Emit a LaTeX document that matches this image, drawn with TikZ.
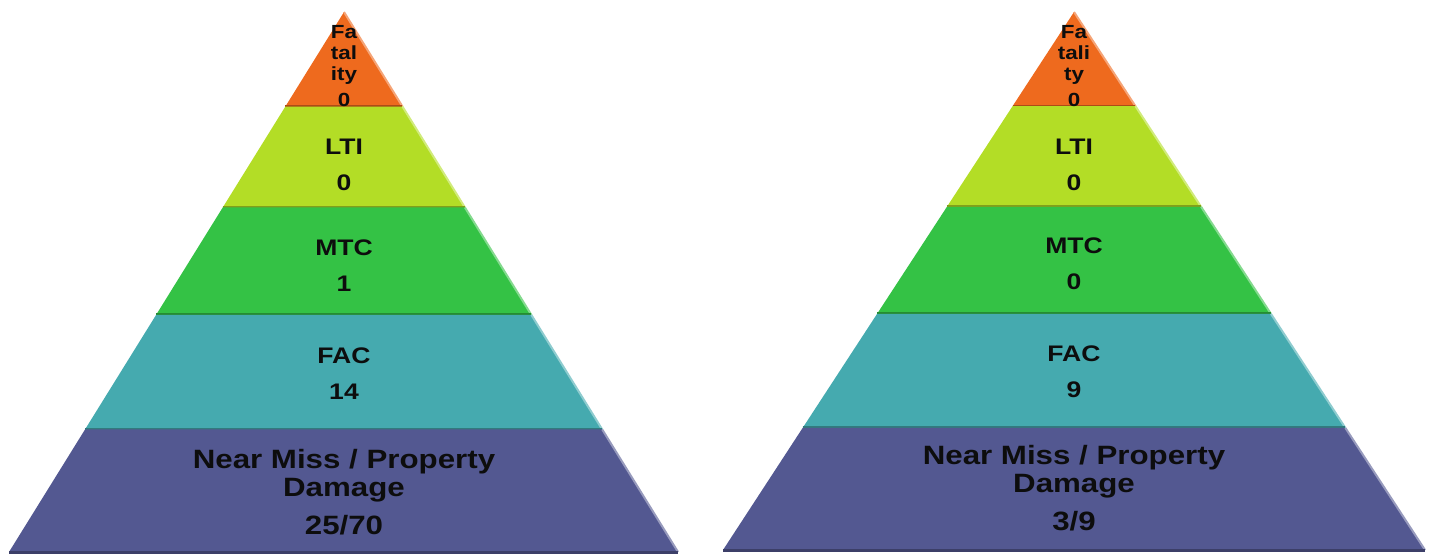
\documentclass[tikz,border=0pt]{standalone}
\usepackage{fontspec}
\newfontfamily\pyrfont[FakeStretch=1.18]{Liberation Sans}
\usetikzlibrary{calc}

\definecolor{FatalOrange}{HTML}{EE6A1E}
\definecolor{LtiLime}{HTML}{B3DD26}
\definecolor{MtcGreen}{HTML}{34C245}
\definecolor{FacTeal}{HTML}{45AAAF}
\definecolor{NearPurple}{HTML}{535891}

\begin{document}
\begin{tikzpicture}[x=1pt, y=-1pt,
    bandedge/.style={draw=#1!72!black, line width=3pt},
    bandtext/.style={font=\pyrfont\bfseries\fontsize{22.5}{36}\selectfont, text=black!95, align=center, inner sep=0pt},
    tiptext/.style={font=\pyrfont\bfseries\fontsize{19}{21}\selectfont, text=black!95, align=center, inner sep=0pt},
    basetext/.style={font=\pyrfont\bfseries\fontsize{26.5}{28}\selectfont, text=black!95, align=center, inner sep=0pt}]
    \useasboundingbox (0,0) rectangle (1434,554);

    % Corners of the two pyramids
    \coordinate (topL) at (344,12);
    \coordinate (leftL) at (9,552);
    \coordinate (rightL) at (678,552);
    \coordinate (topR) at (1074,12);
    \coordinate (leftR) at (723,550);
    \coordinate (rightR) at (1425,550);

    % Bands, top to bottom
    \foreach \s in {L,R} {
        \foreach \p/\q/\c in {0/0.175/FatalOrange, 0.175/0.362/LtiLime, 0.362/0.561/MtcGreen, 0.561/0.773/FacTeal, 0.773/1/NearPurple} {
            \fill[\c] ($(top\s)!\p!(left\s)$) -- ($(top\s)!\p!(right\s)$) -- ($(top\s)!\q!(right\s)$) -- ($(top\s)!\q!(left\s)$) -- cycle;
            \draw[\c!60!white, line width=2pt, xshift=-1.6pt] ($(top\s)!\p!(right\s)$) -- ($(top\s)!\q!(right\s)$);
            \draw[bandedge=\c] ($(top\s)!\q!(left\s)$) -- ($(top\s)!\q!(right\s)$);
        }
    }

    % Left pyramid texts
    \node[tiptext] (fatalL) at (344,66) {Fa\\tal\\ity\\[5pt]0};
    \node[bandtext] (ltiL) at (344,165) {LTI\\0};
    \node[bandtext] (mtcL) at (344,266) {MTC\\1};
    \node[bandtext] (facL) at (344,374) {FAC\\14};
    \node[basetext] (nearL) at (344,492) {Near Miss / Property\\Damage\\[10pt]25/70};

    % Right pyramid texts
    \node[tiptext] (fatalR) at (1074,66) {Fa\\tali\\ty\\[5pt]0};
    \node[bandtext] (ltiR) at (1074,164.5) {LTI\\0};
    \node[bandtext] (mtcR) at (1074,263.5) {MTC\\0};
    \node[bandtext] (facR) at (1074,371.5) {FAC\\9};
    \node[basetext] (nearR) at (1074,488) {Near Miss / Property\\Damage\\[10pt]3/9};
\end{tikzpicture}
\end{document}
